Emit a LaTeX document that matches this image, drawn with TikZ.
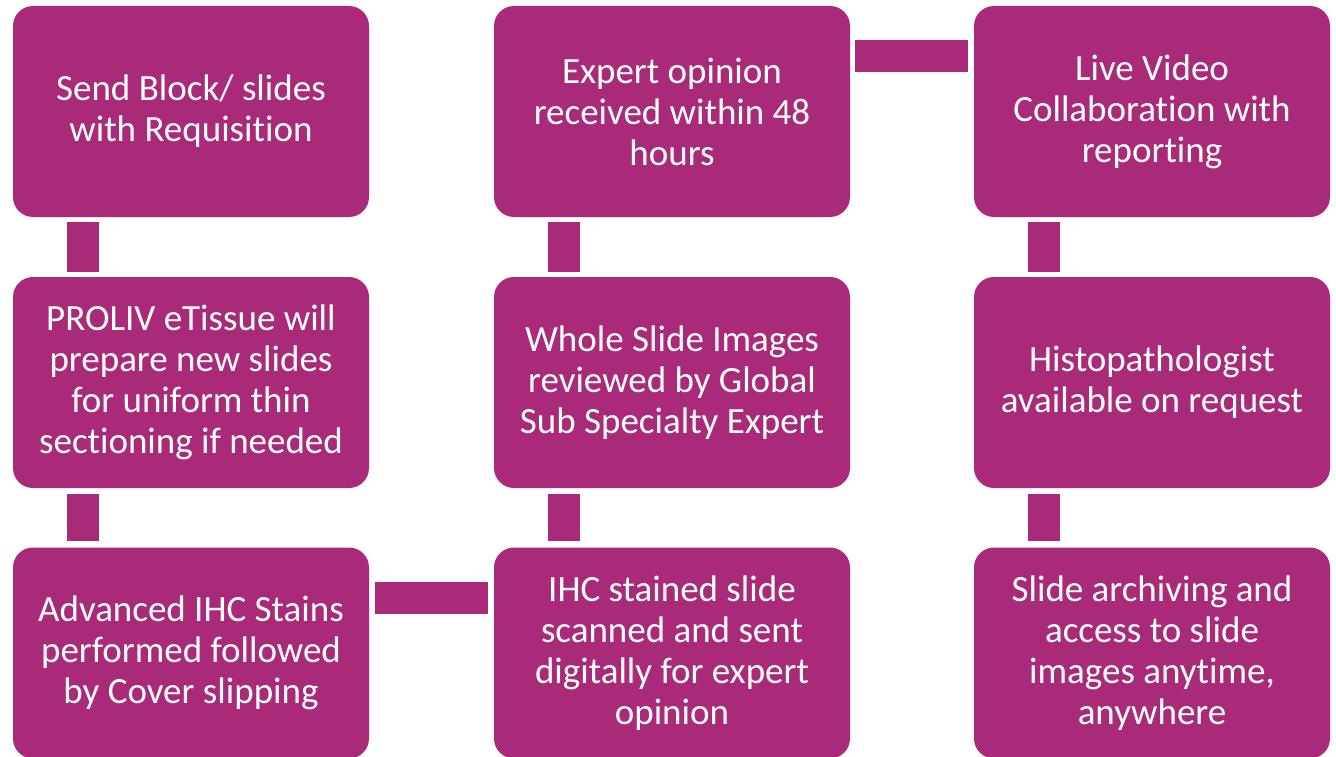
\documentclass[tikz,border=0pt]{standalone}
\usepackage{fontspec}
\setmainfont{Carlito}[RawFeature=-liga]
\definecolor{plum}{RGB}{169,42,121}
\begin{document}
\begin{tikzpicture}[x=1pt,y=-1pt,
  box/.style={fill=plum,draw=none,rounded corners=20pt,minimum width=356pt,minimum height=211pt,
    inner sep=0pt,text=white,align=center,font=\fontsize{37}{41}\selectfont},
  bar/.style={draw=plum,line width=32pt,line cap=butt}]
\useasboundingbox[fill=white] (0,0) rectangle (1336,757);
\node[box] (b1) at (191,111.5) {Send Block/ slides\\with Requisition};
\node[box] (b2) at (191,382.5) {PROLIV eTissue will\\prepare new slides\\for uniform thin\\sectioning if needed};
\node[box] (b3) at (191,653) {Advanced IHC Stains\\performed followed\\by Cover slipping};
\node[box] (b4) at (672,653) {IHC stained slide\\scanned and sent\\digitally for expert\\opinion};
\node[box] (b5) at (672,382.5) {Whole Slide Images\\reviewed by Global\\Sub Specialty Expert};
\node[box] (b6) at (672,111.5) {Expert opinion\\received within 48\\hours};
\node[box] (b7) at (1152,111.5) {Live Video\\Collaboration with\\reporting};
\node[box] (b8) at (1152,382.5) {Histopathologist\\available on request};
\node[box] (b9) at (1152,653) {Slide archiving and\\access to slide\\images anytime,\\anywhere};
\draw[bar,shorten <=5pt,shorten >=5pt] ([xshift=70.5pt]b1.south west) -- ([xshift=70.5pt]b2.north west);
\draw[bar,shorten <=6pt,shorten >=6pt] ([xshift=70.5pt]b2.south west) -- ([xshift=70.5pt]b3.north west);
\draw[bar,shorten <=6pt,shorten >=6pt] ([yshift=-50.5pt]b3.north east) -- ([yshift=-50.5pt]b4.north west);
\draw[bar,shorten <=6pt,shorten >=6pt] ([xshift=70.5pt]b4.north west) -- ([xshift=70.5pt]b5.south west);
\draw[bar,shorten <=5pt,shorten >=5pt] ([xshift=70.5pt]b5.north west) -- ([xshift=70.5pt]b6.south west);
\draw[bar,shorten <=5pt,shorten >=6pt] ([yshift=-50.5pt]b6.north east) -- ([yshift=-50.5pt]b7.north west);
\draw[bar,shorten <=5pt,shorten >=5pt] ([xshift=70.5pt]b7.south west) -- ([xshift=70.5pt]b8.north west);
\draw[bar,shorten <=6pt,shorten >=6pt] ([xshift=70.5pt]b8.south west) -- ([xshift=70.5pt]b9.north west);
\end{tikzpicture}
\end{document}
